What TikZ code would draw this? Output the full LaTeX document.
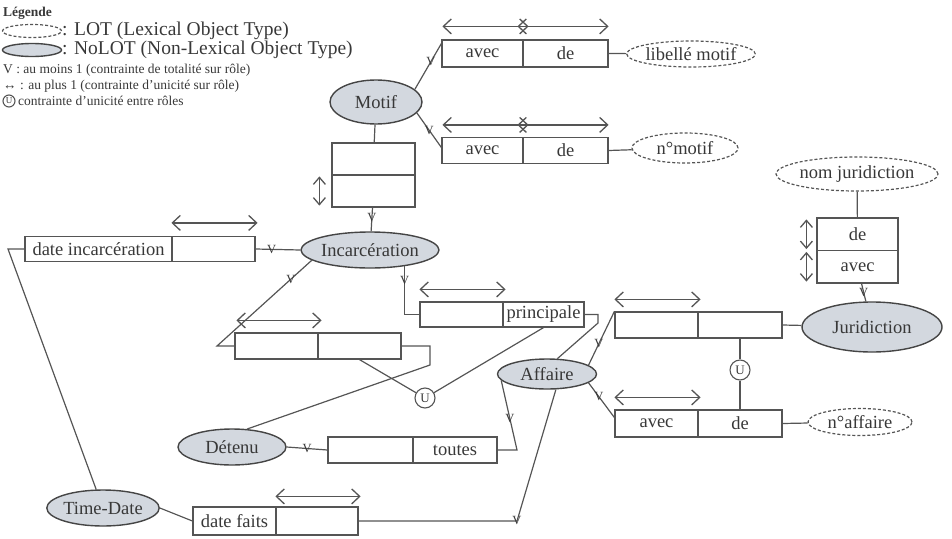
\documentclass[tikz,border=0pt]{standalone}
\usepackage{fontspec}
\setmainfont{Liberation Serif}
\usetikzlibrary{shapes.geometric,arrows.meta,calc}
\definecolor{ink}{HTML}{383838}
\definecolor{wire}{HTML}{555555}
\definecolor{nolotfill}{HTML}{D3D8DF}
\definecolor{rim}{HTML}{454545}
\newcommand\lblfont{\fontsize{18.5}{20}\selectfont}
\newcommand\legfont{\fontsize{19.5}{21}\selectfont}
\newcommand\notefont{\fontsize{13.5}{15}\selectfont}
\tikzset{
  nolot/.style={ellipse, draw=rim, fill=nolotfill, line width=1.4pt, inner sep=0pt, text=ink, font=\lblfont},
  lot/.style={ellipse, draw=wire, dash pattern=on 3pt off 2pt, line width=1.2pt, inner sep=0pt, text=ink, font=\lblfont},
  role/.style={rectangle, draw=wire, line width=1.2pt, inner sep=0pt, minimum height=26pt, text=ink, font=\lblfont},
  conn/.style={draw=wire, line width=1.2pt},
  uniq/.style={draw=wire, line width=1.3pt, {Straight Barb[length=8pt,width=15pt]}-{Straight Barb[length=8pt,width=15pt]}},
  uniqv/.style={draw=wire, line width=1.3pt, {Straight Barb[length=7pt,width=12pt]}-{Straight Barb[length=7pt,width=12pt]}},
  ucirc/.style={circle, draw=wire, line width=1.1pt, inner sep=0pt, minimum size=20pt, text=ink, font=\fontsize{13}{13}\selectfont},
  vmark/.style={inner sep=0pt, text=ink, font=\fontsize{12.5}{12.5}\selectfont},
  legtext/.style={anchor=west, inner sep=0pt, text=ink},
}
\begin{document}
\begin{tikzpicture}[x=1pt,y=-1pt]
\useasboundingbox (0,0) rectangle (952,538);

% ---------- legend ----------
\node[legtext, font=\bfseries\notefont] (legtitle) at (3,13) {Légende};
\node[lot, minimum width=59pt, minimum height=13pt] (leglot) at (32,31) {};
\node[legtext, font=\legfont] (leglottxt) at (62,31) {: LOT (Lexical Object Type)};
\node[nolot, minimum width=59pt, minimum height=13pt] (legnolot) at (32,50) {};
\node[legtext, font=\legfont] (legnolottxt) at (62,50) {: NoLOT (Non-Lexical Object Type)};
\node[legtext, font=\notefont] (legv) at (3,70) {V : au moins 1 (contrainte de totalité sur rôle)};
\node[legtext, font=\notefont] (legarrow) at (3,86) {↔ : au plus 1 (contrainte d'unicité sur rôle)};
\node[ucirc, minimum size=12pt, font=\fontsize{9}{9}\selectfont] (legu) at (9,101) {U};
\node[legtext, font=\notefont] (legutxt) at (18,101) {contrainte d'unicité entre rôles};

% ---------- Motif ----------
\node[nolot, minimum width=92pt, minimum height=44pt] (motif) at (376,102) {Motif};

\node[role, minimum width=81pt, minimum height=27pt] (t1a) at (482.5,53.5) {avec};
\node[role, minimum width=85pt, minimum height=27pt] (t1b) at (565.5,53.5) {de};
\node[lot, minimum width=112pt, minimum height=26pt] (libelle) at (691,54) {libellé motif};
\draw[uniq] ([yshift=13pt,xshift=1pt]t1a.north west) -- ([yshift=13pt,xshift=5pt]t1a.north east);
\draw[uniq] ([yshift=13pt,xshift=-5pt]t1b.north west) -- ([yshift=13pt]t1b.north east);
\draw[conn] (t1b.east) -- (libelle);
\draw[conn] (motif.18) -- node[vmark, pos=.6]{V} ([yshift=10pt]t1a.west);

\node[role, minimum width=81pt, minimum height=26pt] (t2a) at (482.5,150.5) {avec};
\node[role, minimum width=85pt, minimum height=26pt] (t2b) at (565.5,150.5) {de};
\node[lot, minimum width=106pt, minimum height=30pt] (nmotif) at (685,148) {n°motif};
\draw[uniq] ([yshift=12pt,xshift=1pt]t2a.north west) -- ([yshift=12pt,xshift=5pt]t2a.north east);
\draw[uniq] ([yshift=12pt,xshift=-5pt]t2b.north west) -- ([yshift=12pt]t2b.north east);
\draw[conn] (t2b.east) -- (nmotif);
\draw[conn] (motif.-15) -- node[vmark, pos=.5]{V} ([yshift=3pt]t2a.west);

% Motif / Incarceration fact
\node[role, minimum width=83pt, minimum height=32pt] (mv1) at (373.5,159) {};
\node[role, minimum width=83pt, minimum height=32pt] (mv2) at (373.5,191) {};
\draw[conn] (motif) -- (mv1);
\draw[uniqv] ([xshift=-12pt,yshift=-2pt]mv2.north west) -- ([xshift=-12pt,yshift=2pt]mv2.south west);

% ---------- Incarceration ----------
\node[nolot, minimum width=120pt, minimum height=36pt] (incar) at (370,250) {Incarcération};
\draw[conn] (mv2) -- node[vmark, pos=.4]{V} (incar);

\node[role, minimum width=147pt, minimum height=25pt] (di1) at (98.5,249) {date incarcération};
\node[role, minimum width=83pt, minimum height=25pt] (di2) at (213.5,249) {};
\draw[uniq] ([yshift=13pt]di2.north west) -- ([yshift=13pt,xshift=2pt]di2.north east);
\draw[conn] (di2.east) -- node[vmark, pos=.36]{V} (incar.west);

\node[nolot, minimum width=107pt, minimum height=36pt] (timedate) at (103,508) {Time-Date};
\coordinate (tdbend) at (8,249);
\draw[conn] (di1.west) -- (tdbend) -- (timedate);

% Detenu / Incarceration fact
\node[role, minimum width=83pt, minimum height=26pt] (ml1) at (276.5,346) {};
\node[role, minimum width=83pt, minimum height=26pt] (ml2) at (359.5,346) {};
\draw[uniq] ([yshift=12pt,xshift=2pt]ml1.north west) -- ([yshift=12pt,xshift=3pt]ml1.north east);
\coordinate (mlbend) at (217,346);
\draw[conn] (ml1.west) -- (mlbend) -- node[vmark, pos=.78]{V} (incar.190);

\node[nolot, minimum width=108pt, minimum height=36pt] (detenu) at (232,447) {Détenu};
\coordinate (mlr1) at (430,346);
\coordinate (mlr2) at (430,365);
\draw[conn] (ml2.east) -- (mlr1) -- (mlr2) -- (detenu.50);

% principale fact
\node[role, minimum width=83pt, minimum height=25pt] (p1) at (461.5,314.5) {};
\node[role, minimum width=81pt, minimum height=25pt] (p2) at (543.5,314.5) {principale};
\draw[uniq] ([yshift=12pt]p1.north west) -- ([yshift=12pt,xshift=2pt]p1.north east);
\draw[conn] (incar.335) |- node[vmark, pos=.15]{V} (p1.west);

\node[nolot, minimum width=99pt, minimum height=30pt] (affaire) at (547,374) {Affaire};
\coordinate (pr1) at (598,314.5);
\coordinate (pr2) at (598,323);
\draw[conn] (p2.east) -- (pr1) -- (pr2) -- (affaire.56);

\node[ucirc] (uleft) at (425,398) {U};
\draw[conn] (ml2.south) -- (uleft) -- (p2.south);

% ---------- Affaire / Juridiction ----------
\node[role, minimum width=83pt, minimum height=26pt] (r1) at (656.5,325) {};
\node[role, minimum width=84pt, minimum height=26pt] (r2) at (740,325) {};
\draw[uniq] ([yshift=12pt]r1.north west) -- ([yshift=12pt,xshift=2pt]r1.north east);
\draw[conn] (affaire.12) -- node[vmark, pos=.4]{V} (r1.north west);

\node[role, minimum width=83pt, minimum height=27pt] (b1) at (656.5,423.5) {avec};
\node[role, minimum width=84pt, minimum height=27pt] (b2) at (740,423.5) {de};
\draw[uniq] ([yshift=12pt]b1.north west) -- ([yshift=12pt,xshift=2pt]b1.north east);
\draw[conn] (affaire.-12) -- node[vmark, pos=.4]{V} ([yshift=6pt]b1.west);

\node[lot, minimum width=104pt, minimum height=27pt] (naffaire) at (860,422) {n°affaire};
\draw[conn] (b2.east) -- (naffaire);

\node[ucirc] (uright) at (740,370) {U};
\draw[conn] (r2.south) -- (uright) -- (b2.north);

\node[nolot, minimum width=140pt, minimum height=50pt] (jurid) at (872,327) {Juridiction};
\draw[conn] (r2.east) -- (jurid);

\node[lot, minimum width=162pt, minimum height=34pt] (nomjur) at (857,174) {nom juridiction};
\node[role, minimum width=81pt, minimum height=32.5pt] (j1) at (857.5,234.25) {de};
\node[role, minimum width=81pt, minimum height=32.5pt] (j2) at (857.5,266.75) {avec};
\draw[conn] (nomjur) -- (j1);
\draw[conn] (j2) -- node[vmark]{V} (jurid);
\draw[uniqv] ([xshift=-10pt,yshift=-2pt]j1.north west) -- ([xshift=-10pt,yshift=2pt]j1.south west);
\draw[uniqv] ([xshift=-10pt,yshift=-2pt]j2.north west) -- ([xshift=-10pt,yshift=2pt]j2.south west);

% ---------- Detenu / Affaire ----------
\node[role, minimum width=85pt, minimum height=26pt] (to1) at (370.5,450) {};
\node[role, minimum width=84pt, minimum height=26pt] (to2) at (455,450) {toutes};
\draw[conn] (detenu.east) -- node[vmark, pos=.5]{V} (to1.west);
\coordinate (tobend) at (517,450);
\draw[conn] (to2.east) -- (tobend) -- node[vmark, pos=.45]{V} (affaire.188);

% ---------- date faits ----------
\node[role, minimum width=83pt, minimum height=28pt] (df1) at (234.5,521) {date faits};
\node[role, minimum width=82pt, minimum height=28pt] (df2) at (317,521) {};
\draw[uniq] ([yshift=10pt]df2.north west) -- ([yshift=10pt,xshift=2pt]df2.north east);
\draw[conn] (timedate.east) -- (df1.west);
\coordinate (dfbend) at (517,521);
\draw[conn] (df2.east) -- node[vmark, pos=1, yshift=1pt]{V} (dfbend) -- (affaire.300);
\end{tikzpicture}
\end{document}
